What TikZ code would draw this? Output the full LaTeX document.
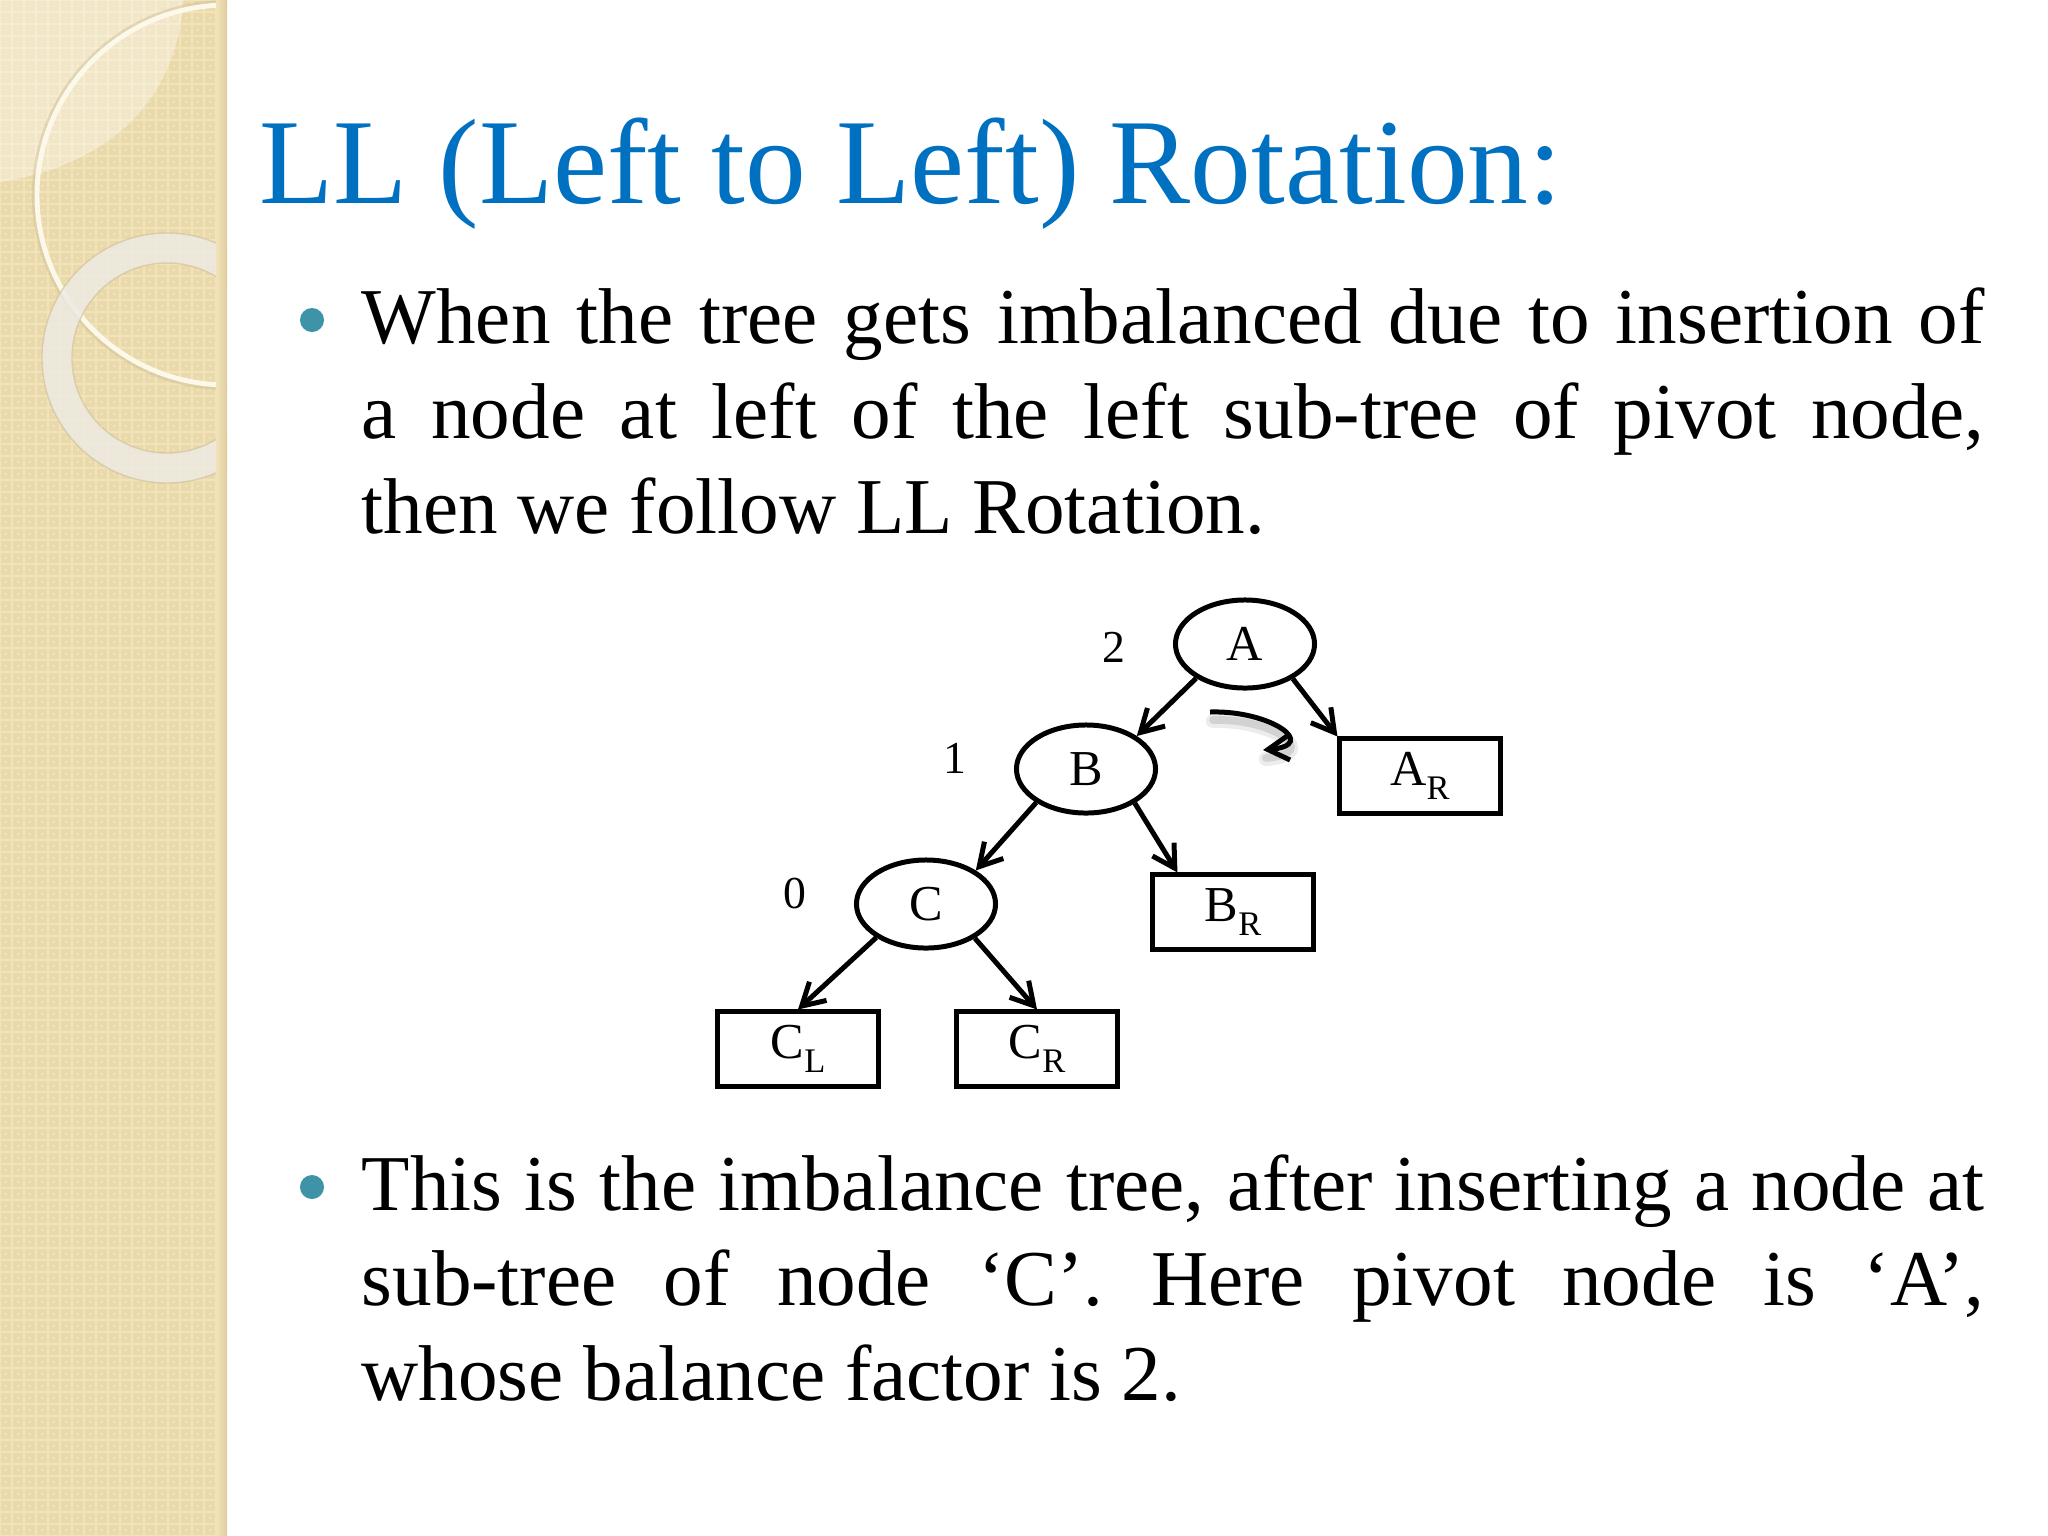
\documentclass[tikz,border=0pt]{standalone}
\usepackage{fontspec}
\setmainfont{Liberation Serif}
\usetikzlibrary{arrows.meta,calc,shapes.geometric}
\definecolor{titleblue}{RGB}{0,112,192}
\definecolor{bullteal}{RGB}{62,148,166}
\definecolor{stripbase}{RGB}{242,228,186}
\definecolor{stripsq}{RGB}{234,217,171}
\definecolor{stripedge}{RGB}{222,204,158}
\definecolor{ringcream}{RGB}{252,248,234}
\definecolor{ringgray}{RGB}{237,234,226}
\definecolor{ringedge}{RGB}{205,190,150}
\newcommand\jline[1]{\makebox[16.22cm][s]{#1}}
\newcommand\lowsub[1]{\raisebox{-0.27em}{\fontsize{9.8}{10}\selectfont #1}}
\tikzset{
  x=0.01cm, y=-0.01cm,
  tnode/.style={ellipse, draw, line width=1.42pt, minimum width=1.39cm, minimum height=0.88cm, inner sep=0pt, font=\fontsize{14.3}{16}\selectfont},
  tbox/.style={rectangle, draw, line width=1.42pt, minimum width=1.60cm, minimum height=0.74cm, inner sep=0pt, font=\fontsize{14.3}{16}\selectfont},
  bfac/.style={inner sep=0pt, font=\fontsize{13}{15}\selectfont},
  tedge/.style={line width=1.42pt, -{Straight Barb[length=6.3pt,width=7.2pt]}},
  bodytext/.style={anchor=base west, inner sep=0pt, font=\fontsize{22.5}{27}\selectfont},
  bulletdot/.style={circle, fill=bullteal, minimum size=0.24cm, inner sep=0pt},
}
\begin{document}
\begin{tikzpicture}
\useasboundingbox (0,0) rectangle (2048,1536);
\fill[white] (0,0) rectangle (2048,1536);
% left decorative strip
\begin{scope}
\clip (0,0) rectangle (227,1536);
\fill[stripbase] (0,0) rectangle (227,1536);
\draw[stripsq, line width=0.9pt] foreach \i in {0,...,18}{ foreach \j in {0,...,127}{ (\i*12+3,\j*12+3) rectangle ++(6,6) } };
\fill[white, opacity=0.35] (0,0) -- (183,0) -- (183,5) .. controls (175,100) and (110,165) .. (0,182) -- cycle;
\draw[ringedge, opacity=0.45, line width=1.2pt] (227,195) circle[radius=193];
\draw[ringcream, line width=1.4pt] (227,195) circle[radius=190];
\fill[ringgray, opacity=0.85, even odd rule] (167,358) circle[radius=125] (167,358) circle[radius=95];
\draw[ringedge, opacity=0.6, line width=0.4pt] (167,358) circle[radius=125] (167,358) circle[radius=95];
\fill[left color=stripbase, right color=stripedge] (216,0) rectangle (227,1536);
\end{scope}
% title
\node[anchor=base west, inner sep=0pt, text=titleblue, font=\fontsize{34.55}{40}\selectfont] (title) at (259,203) {LL (Left to Left) Rotation:};
% first bullet
\node[bulletdot] (b1) at (312,320) {};
\node[bodytext] (l1) at (361,343) {\jline{When the tree gets imbalanced due to insertion of}};
\node[bodytext] (l2) at (361,438) {\jline{a node at left of the left sub-tree of pivot node,}};
\node[bodytext] (l3) at (361,533) {then we follow LL Rotation.};
% second bullet
\node[bulletdot] (b2) at (312,1187) {};
\node[bodytext] (m1) at (361,1210) {\jline{This is the imbalance tree, after inserting a node at}};
\node[bodytext] (m2) at (361,1305) {\jline{sub-tree of node ‘C’. Here pivot node is ‘A’,}};
\node[bodytext] (m3) at (361,1400) {whose balance factor is 2.};
% tree
\node[tnode] (A) at (1245,644) {A};
\node[tnode] (B) at (1086,769) {B};
\node[tnode] (C) at (926,904) {C};
\node[tbox] (AR) at (1420,776) {A\lowsub{R}};
\node[tbox] (BR) at (1233,912) {B\lowsub{R}};
\node[tbox] (CL) at (798,1049) {C\lowsub{L}};
\node[tbox] (CR) at (1037,1049) {C\lowsub{R}};
\node[bfac] (f2) at (1114,647) {2};
\node[bfac] (f1) at (955,758) {1};
\node[bfac] (f0) at (795,894) {0};
\draw[tedge] (A.215) -- (B.33);
\draw[tedge] (A.324) -- (AR.north west);
\draw[tedge] (B.214) -- (C.34);
\draw[tedge] (B.325) -- ($(BR.north west)+(27,0)$);
\draw[tedge] (C.214) -- (CL.north);
\draw[tedge] (C.325) -- (CR.north);
% rotation arrow
\coordinate (rs) at (1210,712);
\coordinate (re) at (1263,750);
\draw[black!40, opacity=0.18, line width=4pt, line cap=round] ($(rs)+(3,9)$) .. controls ($(1270,710)+(3,9)$) and ($(1320,745)+(3,9)$) .. ($(re)+(3,9)$);
\draw[black!40, opacity=0.3, line width=2.2pt, line cap=round] ($(rs)+(3,8)$) .. controls ($(1270,710)+(3,8)$) and ($(1320,745)+(3,8)$) .. ($(re)+(3,8)$);
\draw[line width=1.42pt, -{Straight Barb[length=6pt,width=7pt]}] (rs) .. controls (1270,710) and (1320,745) .. (re);
\end{tikzpicture}
\end{document}
